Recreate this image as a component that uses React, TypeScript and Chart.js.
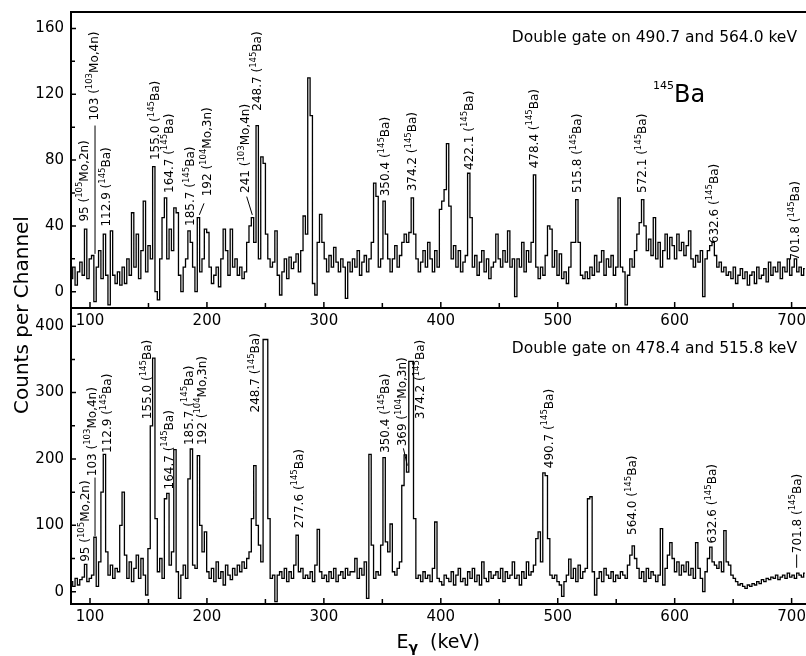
import React, { useEffect, useRef } from "react";
import { Chart, registerables } from "chart.js";

Chart.register(...registerables);

const FONT = '"DejaVu Sans", sans-serif';
Chart.defaults.font.family = FONT;

// energy calibration of the (re-binned) channels
const channelOffset = 84.2; // keV at centre of channel 0
const keVPerChannel = 2.01;

// Top spectrum: double gate on 490.7 and 564.0 keV
const topCounts = [
  8, 15, 4, 12, 18, 10, 38, 8, 20, 22,
  -6, 15, 25, 8, 35, 10, -8, 37, 10, 5,
  12, 4, 15, 5, 20, 10, 48, 15, 35, 8,
  25, 55, 12, 28, 20, 76, 0, -5, 20, 45,
  57, 20, 38, 25, 51, 48, 10, 0, 15, 20,
  37, 30, 15, 0, 45, 12, 20, 38, 36, 15,
  5, 10, 15, 3, 20, 38, 25, 10, 38, 15,
  20, 10, 15, 8, 12, 30, 40, 45, 30, 101,
  20, 82, 78, 35, 20, 15, 18, 37, 10, -2,
  12, 20, 8, 21, 14, 18, 23, 12, 25, 46,
  35, 130, 107, 5, -2, 30, 47, 30, 20, 12,
  22, 15, 27, 18, 12, 20, 15, -4, 18, 12,
  20, 15, 25, 10, 18, 22, 12, 20, 30, 66,
  58, 15, 20, 55, 35, 20, 12, 20, 28, 15,
  22, 30, 35, 30, 36, 57, 35, 20, 12, 18,
  25, 15, 30, 20, 12, 25, 15, 50, 55, 62,
  90, 52, 20, 28, 15, 25, 12, 18, 22, 72,
  45, 15, 22, 10, 18, 25, 12, 20, 8, 15,
  18, 35, 20, 15, 25, 18, 37, 15, 20, -3,
  20, 15, 30, 12, 25, 18, 30, 71, 15, 8,
  15, 10, 22, 40, 38, 15, 25, 10, 23, 8,
  12, 5, 15, 30, 30, 56, 30, 10, 8, 12,
  8, 15, 10, 22, 12, 18, 25, 10, 20, 15,
  22, 10, 15, 57, 15, 12, -8, 10, 20, 15,
  25, 35, 42, 56, 40, 25, 32, 22, 45, 20,
  30, 15, 25, 35, 20, 33, 28, 20, 35, 25,
  30, 22, 28, 37, 20, 15, 22, 18, 25, -3,
  20, 25, 28, 30, 22, 15, 18, 12, 15, 10,
  12, 8, 15, 5, 10, 14, 8, 12, 4, 10,
  12, 5, 15, 8, 10, 14, 6, 18, 10, 15,
  12, 18, 8, 15, 12, 20, 10, 15, 20, 12,
  15, 10, 14,
];

// Bottom spectrum: double gate on 478.4 and 515.8 keV
const bottomCounts = [
  15, 8, 20, 10, 18, 22, 41, 15, 20, 25,
  82, 8, 45, 150, 207, 60, 25, 40, 20, 35,
  30, 100, 150, 55, 20, 45, 15, 35, 55, 20,
  50, 25, -5, 65, 250, 352, 110, 30, 50, 20,
  140, 148, 40, 60, 214, 30, -10, 25, 40, 20,
  170, 215, 40, 35, 205, 100, 60, 90, 30, 20,
  35, 15, 45, 20, 30, 10, 40, 25, 18, 35,
  25, 40, 30, 45, 35, 50, 60, 110, 190, 100,
  70, 45, 380, 380, 110, 20, 25, -15, 25, 30,
  20, 35, 15, 30, 20, 40, 85, 30, 35, 20,
  25, 20, 30, 15, 40, 94, 30, 20, 25, 15,
  30, 20, 35, 15, 25, 30, 20, 35, 25, 30,
  30, 50, 20, 35, 25, 45, -10, 207, 70, 20,
  30, 25, 70, 202, 75, 60, 102, 30, 25, 35,
  45, 160, 206, 180, 347, 347, 110, 20, 25, 15,
  30, 20, 25, 15, 35, 105, 20, 15, 10, 25,
  20, 15, 30, 10, 25, 35, 15, 20, 10, 30,
  20, 35, 15, 25, 10, 45, 20, 15, 30, 20,
  25, 30, 20, 35, 15, 30, 20, 25, 45, 20,
  25, 10, 30, 20, 45, 25, 30, 40, 80, 90,
  45, 179, 175, 80, 25, 20, 25, 15, 10, -7,
  15, 25, 49, 20, 35, 15, 40, 20, 30, 35,
  140, 143, 30, -5, 20, 30, 15, 35, 25, 20,
  30, 15, 25, 20, 30, 25, 20, 40, 55, 69,
  50, 35, 20, 30, 15, 35, 20, 30, 25, 15,
  25, 95, 10, 35, 55, 74, 50, 30, 45, 25,
  40, 30, 45, 25, 35, 20, 74, 35, 20, 0,
  30, 50, 67, 45, 40, 35, 45, 30, 92, 45,
  40, 25, 20, 15, 10, 12, 8, 5, 10, 8,
  12, 10, 15, 12, 18, 15, 20, 18, 22, 20,
  25, 18, 22, 25, 20, 28, 22, 25, 20, 28,
  25, 22, 28,
];

const xTickValues = [100, 200, 300, 400, 500, 600, 700];
const xMinorTickValues = [150, 250, 350, 450, 550, 650];
const topYTickValues = [0, 40, 80, 120, 160];
const topYMinorTickValues = [20, 60, 100, 140];
const bottomYTickValues = [0, 100, 200, 300, 400];
const bottomYMinorTickValues = [50, 150, 250, 350];

// peak labels ("^nnn" = superscript)
const topLabelTexts = [
  "95 (^105Mo,2n)", "103 (^103Mo,4n)", "112.9 (^145Ba)", "155.0 (^145Ba)",
  "164.7 (^145Ba)", "185.7 (^145Ba)", "192 (^104Mo,3n)", "241 (^103Mo,4n)",
  "248.7 (^145Ba)", "350.4 (^145Ba)", "374.2 (^145Ba)", "422.1 (^145Ba)",
  "478.4 (^145Ba)", "515.8 (^145Ba)", "572.1 (^145Ba)", "632.6 (^145Ba)",
  "701.8 (^145Ba)",
];
const topLabelEnergies = [94.3, 102.8, 113.4, 155.6, 167, 185.5, 199.8, 232.5, 242.5, 352.3, 375.1, 423.5, 479.1, 516.3, 571.8, 633.0, 702.9];
const topLabelCounts = [42.6, 104, 39.6, 80, 60, 40, 58, 60, 110, 58, 61, 74, 75, 60, 60, 29.5, 19];
const topLeaders = [
  [104.3, 101, 104.3, 23],
  [197.5, 53.7, 193.5, 46.7],
  [234, 57.8, 238.8, 46.7],
];

const bottomLabelTexts = [
  "95 (^105Mo,2n)", "103 (^103Mo,4n)", "112.9 (^145Ba)", "155.0 (^145Ba)",
  "164.7 (^145Ba)", "185.7 (^145Ba)", "192 (^104Mo,3n)", "248.7 (^145Ba)",
  "277.6 (^145Ba)", "350.4 (^145Ba)", "369 (^104Mo,3n)", "374.2 (^145Ba)",
  "490.7 (^145Ba)", "564.0 (^145Ba)", "632.6 (^145Ba)", "701.8 (^145Ba)",
];
const bottomLabelEnergies = [95.7, 101.3, 114.3, 148.5, 167, 184.1, 195.4, 241, 278.1, 352.3, 366.6, 382.1, 492, 563.2, 631.6, 704.2];
const bottomLabelCounts = [45, 174, 209, 260, 154, 221, 221, 270, 95.5, 209, 219, 260, 186, 85.5, 72.7, 58];
const bottomLeaders = [
  [104.3, 172, 104.3, 84],
  [368, 216, 371.4, 190],
  [704.3, 56, 704.3, 36],
];

function drawRich(ctx: CanvasRenderingContext2D, text: string, x: number, y: number, size: number, supSize: number, raise: number) {
  const parts = text.split(/(\^\d+)/).filter(Boolean);
  let cx = x;
  for (const p of parts) {
    const sup = p[0] === "^";
    const s = sup ? p.slice(1) : p;
    ctx.font = `${sup ? supSize : size}px ${FONT}`;
    ctx.fillText(s, cx, sup ? y - raise : y);
    cx += ctx.measureText(s).width;
  }
  return cx - x;
}

function panelPlugin(p: any) {
  return {
    id: "panel_" + p.id,
    afterDatasetsDraw(chart: any) {
      const { ctx, chartArea: a, scales } = chart;
      const xs = scales.x;
      const ys = scales.y;
      ctx.save();
      ctx.strokeStyle = "#000";
      ctx.fillStyle = "#000";
      // axis lines
      ctx.lineWidth = 2;
      ctx.beginPath();
      ctx.moveTo(a.left, a.top - (p.topBorder ? 1 : 0));
      ctx.lineTo(a.left, a.bottom + 1);
      ctx.moveTo(a.left - 1, a.bottom);
      ctx.lineTo(a.right, a.bottom);
      if (p.topBorder) {
        ctx.moveTo(a.left - 1, a.top);
        ctx.lineTo(a.right, a.top);
      }
      ctx.stroke();
      // inward tick marks
      ctx.lineWidth = 1.5;
      ctx.beginPath();
      for (const v of xTickValues) {
        const px = xs.getPixelForValue(v);
        ctx.moveTo(px, a.bottom);
        ctx.lineTo(px, a.bottom - 6);
      }
      for (const v of xMinorTickValues) {
        const px = xs.getPixelForValue(v);
        ctx.moveTo(px, a.bottom);
        ctx.lineTo(px, a.bottom - 5);
      }
      for (const v of p.yMajor) {
        const py = ys.getPixelForValue(v);
        ctx.moveTo(a.left, py);
        ctx.lineTo(a.left + 5, py);
      }
      for (const v of p.yMinor) {
        const py = ys.getPixelForValue(v);
        ctx.moveTo(a.left, py);
        ctx.lineTo(a.left + 4, py);
      }
      ctx.stroke();
      // leader lines
      ctx.lineWidth = 1;
      ctx.beginPath();
      for (const [e1, c1, e2, c2] of p.leaders) {
        ctx.moveTo(xs.getPixelForValue(e1), ys.getPixelForValue(c1));
        ctx.lineTo(xs.getPixelForValue(e2), ys.getPixelForValue(c2));
      }
      ctx.stroke();
      // rotated peak labels
      ctx.textAlign = "left";
      ctx.textBaseline = "alphabetic";
      p.labelTexts.forEach((t: string, i: number) => {
        const px = xs.getPixelForValue(p.labelEnergies[i]);
        const py = ys.getPixelForValue(p.labelCounts[i]);
        ctx.save();
        ctx.translate(px, py);
        ctx.rotate(-Math.PI / 2);
        drawRich(ctx, t, 0, 4.4, 12, 8.5, 5.5);
        ctx.restore();
      });
      // gate text
      ctx.textAlign = "right";
      ctx.font = `15.5px ${FONT}`;
      ctx.fillText(p.gateText, a.right - 9, a.top + p.gateDy);
      ctx.textAlign = "left";
      if (p.nucleus) {
        drawRich(ctx, "^145Ba", xs.getPixelForValue(581.4), ys.getPixelForValue(115.4), 24, 11, 12.5);
      }
      if (p.yTitle) {
        ctx.save();
        ctx.translate(28, 315);
        ctx.rotate(-Math.PI / 2);
        ctx.textAlign = "center";
        ctx.font = `20px ${FONT}`;
        ctx.fillText("Counts per Channel", 0, 0);
        ctx.restore();
      }
      if (p.xTitle) {
        const cx = (a.left + a.right) / 2;
        const by = a.bottom + 44;
        let x = cx - 42;
        ctx.font = `19px ${FONT}`;
        ctx.fillText("E", x, by);
        x += ctx.measureText("E").width;
        ctx.font = `bold 14px ${FONT}`;
        ctx.fillText("γ", x, by + 4);
        x += ctx.measureText("γ").width;
        ctx.font = `19px ${FONT}`;
        ctx.fillText("  (keV)", x, by);
      }
      ctx.restore();
    },
  };
}

function makeChart(canvas: HTMLCanvasElement, counts: number[], cfg: any) {
  return new Chart(canvas, {
    type: "line",
    data: {
      datasets: [
        {
          data: counts.map((v, i) => ({ x: channelOffset + i * keVPerChannel, y: v })),
          stepped: "middle",
          borderColor: "#000",
          borderWidth: 1.3,
          pointRadius: 0,
          fill: false,
        } as any,
      ],
    },
    options: {
      responsive: false,
      animation: false,
      events: [],
      layout: { padding: cfg.padding },
      plugins: { legend: { display: false }, tooltip: { enabled: false } },
      scales: {
        x: {
          type: "linear",
          min: 83.75,
          max: 712.3,
          grid: { display: false, drawTicks: false },
          border: { display: false },
          afterBuildTicks: (s: any) => {
            s.ticks = xTickValues.map((v) => ({ value: v }));
          },
          afterFit: (s: any) => {
            s.height = cfg.xAxisHeight;
            s.paddingLeft = 0;
            s.paddingRight = 0;
            s.paddingTop = 0;
            s.paddingBottom = 0;
          },
          ticks: {
            font: { family: FONT, size: 15 },
            color: "#000",
            padding: 4,
            maxRotation: 0,
            autoSkip: false,
            callback: (v: any) => String(v),
          },
        },
        y: {
          type: "linear",
          min: cfg.yMin,
          max: cfg.yMax,
          grid: { display: false, drawTicks: false },
          border: { display: false },
          afterBuildTicks: (s: any) => {
            s.ticks = cfg.yMajor.map((v: number) => ({ value: v }));
          },
          afterFit: (s: any) => {
            s.width = 71;
            s.paddingLeft = 0;
            s.paddingRight = 0;
            s.paddingTop = 0;
            s.paddingBottom = 0;
          },
          ticks: {
            font: { family: FONT, size: 15 },
            color: "#000",
            padding: 7,
            callback: (v: any) => String(v),
          },
        },
      },
    } as any,
    plugins: [panelPlugin(cfg)],
  });
}

const topCfg = {
  id: "top",
  padding: { top: 12, left: 0, right: 0, bottom: 318 },
  xAxisHeight: 30,
  yMin: -9.9,
  yMax: 170,
  yMajor: topYTickValues,
  yMinor: topYMinorTickValues,
  topBorder: true,
  leaders: topLeaders,
  labelTexts: topLabelTexts,
  labelEnergies: topLabelEnergies,
  labelCounts: topLabelCounts,
  gateText: "Double gate on 490.7 and 564.0 keV",
  gateDy: 30,
  nucleus: true,
  yTitle: true,
  xTitle: false,
};

const bottomCfg = {
  id: "bottom",
  padding: { top: 308, left: 0, right: 0, bottom: 0 },
  xAxisHeight: 52,
  yMin: -18.6,
  yMax: 427.5,
  yMajor: bottomYTickValues,
  yMinor: bottomYMinorTickValues,
  topBorder: false,
  leaders: bottomLeaders,
  labelTexts: bottomLabelTexts,
  labelEnergies: bottomLabelEnergies,
  labelCounts: bottomLabelCounts,
  gateText: "Double gate on 478.4 and 515.8 keV",
  gateDy: 45,
  nucleus: false,
  yTitle: false,
  xTitle: true,
};

export default function App() {
  const topRef = useRef<HTMLCanvasElement>(null);
  const botRef = useRef<HTMLCanvasElement>(null);
  useEffect(() => {
    const b = makeChart(botRef.current!, bottomCounts, bottomCfg);
    const t = makeChart(topRef.current!, topCounts, topCfg);
    return () => {
      b.destroy();
      t.destroy();
    };
  }, []);
  const cs: React.CSSProperties = { position: "absolute", left: 0, top: 0, width: 806, height: 656 };
  return (
    <div style={{ position: "fixed", left: 0, top: 0, width: 806, height: 656, background: "#fff" }}>
      <canvas ref={botRef} width={806} height={656} style={cs} />
      <canvas ref={topRef} width={806} height={656} style={cs} />
    </div>
  );
}
